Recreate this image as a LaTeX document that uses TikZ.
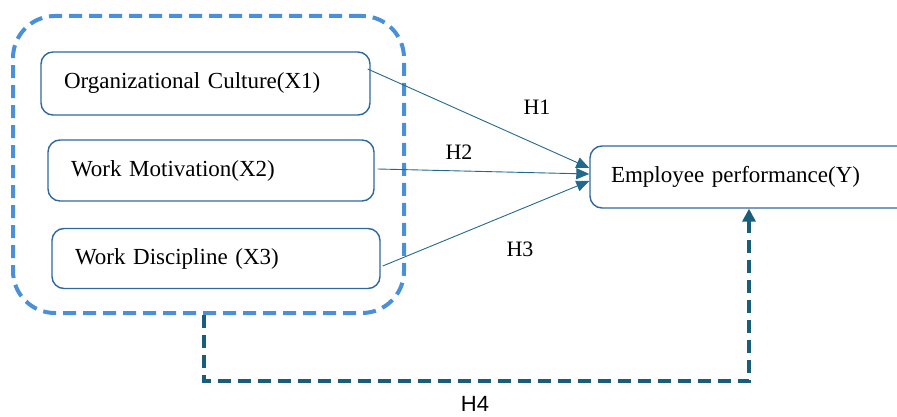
\documentclass[tikz,border=0pt]{standalone}
\usepackage{fontspec}
\setmainfont{Liberation Serif}
\newfontfamily\hfourfont{Liberation Sans}
\usetikzlibrary{arrows.meta,calc}
\definecolor{outerblue}{RGB}{74,144,217}
\definecolor{boxblue}{RGB}{46,104,160}
\definecolor{arrowteal}{RGB}{35,105,140}
\definecolor{hfourteal}{RGB}{24,94,124}
\begin{document}
\begin{tikzpicture}[x=1pt,y=-1pt,
  varbox/.style={draw=boxblue, line width=1.4pt, rounded corners=12pt, inner xsep=23pt, inner ysep=0pt,
    align=left, font=\fontsize{23}{27}\selectfont},
  outerbox/.style={draw=outerblue, line width=4pt, rounded corners=42pt, dash pattern=on 13pt off 7pt},
  linkarrow/.style={draw=arrowteal, line width=0.9pt, -{Triangle[length=13pt,width=11pt]}},
  hfourpath/.style={draw=hfourteal, line width=4pt, dash pattern=on 13pt off 7pt, -{Triangle[length=13pt,width=13pt]}},
  hlabel/.style={font=\fontsize{22}{26}\selectfont, inner sep=0pt}
]
\clip (0,0) rectangle (897,417);
\node[outerbox, minimum width=391pt, minimum height=297pt] (outer) at (208.5,164.5) {};
\node[varbox, text width=283pt, minimum height=63pt] (b1) at (205.5,83.5) {Organizational Culture(X1)};
\node[varbox, text width=280pt, minimum height=61pt] (b2) at (211,170.5) {Work Motivation(X2)};
\node[varbox, text width=282pt, minimum height=60pt] (b3) at (216,258.5) {Work Discipline (X3)};
\node[varbox, inner xsep=21pt, text width=288pt, minimum height=62pt] (emp) at (755,177) {Employee performance(Y)};
\draw[linkarrow] ($(b1.east)+(-3,-14.5)$) -- ($(emp.west)+(0,-9)$);
\draw[linkarrow] ($(b2.east)+(3,-1.5)$) -- ($(emp.west)+(0,-3)$);
\draw[linkarrow] ($(b3.east)+(2,7.5)$) -- ($(emp.west)+(0,4)$);
\node[hlabel] (h1) at (537,107.5) {H1};
\node[hlabel] (h2) at (459,152.5) {H2};
\node[hlabel] (h3) at (520,249.5) {H3};
\coordinate (h4start) at ($(outer.south)+(-5,0)$);
\draw[hfourpath] (h4start) -- ++(0,66) -| ($(emp.south)+(-6,0)$);
\node[hlabel, font=\hfourfont\fontsize{22}{26}\selectfont] (h4) at (475,404) {H4};
\end{tikzpicture}
\end{document}
